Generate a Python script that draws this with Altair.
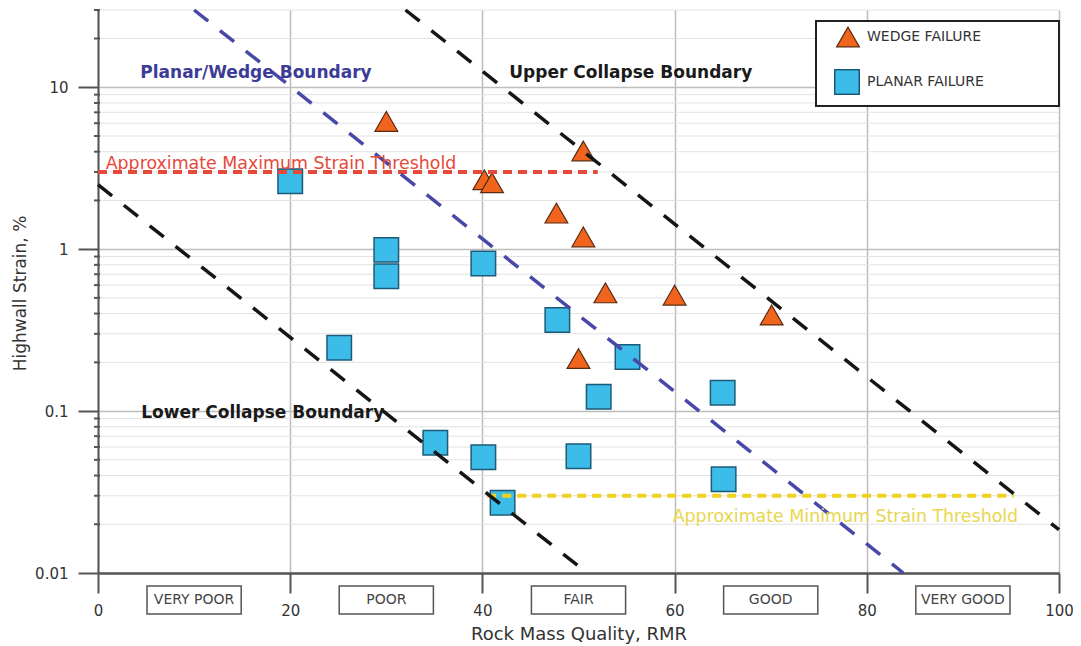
import altair as alt
import pandas as pd

# ---------------- data ----------------
wedge_rmr = [30.0, 40.2, 41.0, 50.5, 47.7, 50.5, 52.8, 60.0, 70.1, 50.0]
wedge_strain = [6.15, 2.68, 2.57, 4.04, 1.67, 1.19, 0.537, 0.52, 0.392, 0.211]

planar_rmr = [20.0, 30.0, 30.0, 40.1, 47.8, 25.1, 55.1, 52.1, 65.0, 35.1, 40.1, 50.0, 65.1, 42.1]
planar_strain = [2.63, 0.99, 0.68, 0.817, 0.365, 0.246, 0.216, 0.1225, 0.130,
                 0.0637, 0.0518, 0.0527, 0.0379, 0.0272]

boundary_names = ["Lower Collapse Boundary", "Planar/Wedge Boundary", "Upper Collapse Boundary"]
boundary_rmr_start = [0.0, 10.0, 32.0]
boundary_rmr_end = [50.9, 83.8, 100.0]
boundary_strain_start = [2.5, 30.0, 30.0]
boundary_strain_end = [0.01, 0.01, 0.0185]

threshold_names = ["Approximate Maximum Strain Threshold", "Approximate Minimum Strain Threshold"]
threshold_rmr_start = [0.0, 40.5]
threshold_rmr_end = [52.0, 95.3]
threshold_strain = [3.0, 0.03]

boundary_label_rmr = [4.5, 4.4, 42.8]
boundary_label_strain = [0.0968, 12.2, 12.2]
threshold_label_rmr = [0.8, 59.8]
threshold_label_strain = [3.12, 0.0206]

classes = ["VERY POOR", "POOR", "FAIR", "GOOD", "VERY GOOD"]
class_center = [10, 30, 50, 70, 90]
class_lo = [5.1, 25.1, 45.1, 65.1, 85.1]
class_hi = [14.9, 34.9, 54.9, 74.9, 94.9]

legend_labels = ["WEDGE FAILURE", "PLANAR FAILURE"]

x_ticks = [0, 20, 40, 60, 80, 100]
y_major = [0.01, 0.1, 1, 10]
y_minor = [0.02, 0.03, 0.04, 0.05, 0.06, 0.07, 0.08, 0.09,
           0.2, 0.3, 0.4, 0.5, 0.6, 0.7, 0.8, 0.9,
           2, 3, 4, 5, 6, 7, 8, 9, 20, 30]

# ---------------- styles ----------------
FONT = "DejaVu Sans"
TRI_FILL = "#f0641e"
TRI_STROKE = "#5a2a10"
SQ_FILL = "#3cbce8"
SQ_STROKE = "#1d5a78"
BLUE = "#4848a8"
BLUE_TXT = "#3c3c98"
BLACK = "#151515"
RED = "#e5493a"
YELLOW = "#f0d21e"
YELLOW_TXT = "#e8d64c"
AXIS = "#555555"
W, H = 961, 563

boundary_line_colors = [BLACK, BLUE, BLACK]
boundary_text_colors = ["#1a1a1a", BLUE_TXT, "#1a1a1a"]
threshold_line_colors = [RED, YELLOW]
threshold_text_colors = [RED, YELLOW_TXT]

x_scale = alt.Scale(domain=[0, 100], nice=False, zero=False)
y_scale = alt.Scale(type="log", domain=[0.01, 30], nice=False)

x_axis = alt.Axis(values=x_ticks, format="d", title="Rock Mass Quality, RMR",
                  tickSize=20, tickWidth=2, tickColor=AXIS,
                  domainColor=AXIS, domainWidth=2.5,
                  labelFont=FONT, labelFontSize=15, labelColor="#333333",
                  labelPadding=10, labelFlush=False, labelOverlap=False,
                  grid=True, gridColor="#bdbdbd", gridWidth=1.5,
                  titleFont=FONT, titleFontSize=18, titleFontWeight="normal",
                  titleColor="#333333", titleBaseline="alphabetic", titleY=66)

y_axis = alt.Axis(values=y_major, format="~g", title="Highwall Strain, %",
                  tickSize=20, tickWidth=2, tickColor=AXIS,
                  domainColor=AXIS, domainWidth=2,
                  labelFont=FONT, labelFontSize=15, labelColor="#333333",
                  labelPadding=10, labelFlush=False, labelOverlap=False,
                  grid=True, gridColor="#bdbdbd", gridWidth=1.5,
                  titleFont=FONT, titleFontSize=17, titleFontWeight="normal",
                  titleColor="#333333", titleAngle=270, titleAlign="center",
                  titleBaseline="middle", titleX=-78, titleY=283)


def X(field):
    return alt.X(field, type="quantitative", scale=x_scale, axis=x_axis)


def Y(field):
    return alt.Y(field, type="quantitative", scale=y_scale, axis=y_axis)


layers = []

# minor gridlines and minor ticks
minor_df = pd.DataFrame({"strain": y_minor})
layers.append(alt.Chart(minor_df).mark_rule(color="#e2e2e2", strokeWidth=1).encode(y=Y("strain")))
layers.append(alt.Chart(minor_df).mark_rule(color=AXIS, strokeWidth=2).encode(
    y=Y("strain"), x=alt.value(-4), x2=alt.value(2)))

# data points
wedge_df = pd.DataFrame({"rmr": wedge_rmr, "strain": wedge_strain})
planar_df = pd.DataFrame({"rmr": planar_rmr, "strain": planar_strain})
layers.append(alt.Chart(wedge_df).mark_point(
    shape="triangle-up", filled=True, fill=TRI_FILL, stroke=TRI_STROKE, strokeWidth=1.2,
    size=520, opacity=1).encode(x=X("rmr"), y=Y("strain")))
layers.append(alt.Chart(planar_df).mark_point(
    shape="square", filled=True, fill=SQ_FILL, stroke=SQ_STROKE, strokeWidth=1.5,
    size=600, opacity=1).encode(x=X("rmr"), y=Y("strain")))

# threshold lines
for i, n in enumerate(threshold_names):
    d = pd.DataFrame({"rmr": [threshold_rmr_start[i]], "rmr2": [threshold_rmr_end[i]],
                      "strain": [threshold_strain[i]]})
    layers.append(alt.Chart(d).mark_rule(strokeDash=[9, 6], strokeWidth=4,
                                         color=threshold_line_colors[i]).encode(
        x=X("rmr"), x2="rmr2:Q", y=Y("strain")))

# boundary lines
for i, n in enumerate(boundary_names):
    d = pd.DataFrame({"rmr": [boundary_rmr_start[i], boundary_rmr_end[i]],
                      "strain": [boundary_strain_start[i], boundary_strain_end[i]]})
    layers.append(alt.Chart(d).mark_line(strokeDash=[18, 15], strokeWidth=3.5,
                                         color=boundary_line_colors[i]).encode(
        x=X("rmr"), y=Y("strain")))

# line labels
for i, n in enumerate(boundary_names):
    d = pd.DataFrame({"name": [n], "rmr": [boundary_label_rmr[i]],
                      "strain": [boundary_label_strain[i]]})
    layers.append(alt.Chart(d).mark_text(align="left", baseline="middle", font=FONT,
                                         fontWeight="bold", fontSize=17,
                                         color=boundary_text_colors[i]).encode(
        x=X("rmr"), y=Y("strain"), text="name:N"))
for i, n in enumerate(threshold_names):
    d = pd.DataFrame({"name": [n], "rmr": [threshold_label_rmr[i]],
                      "strain": [threshold_label_strain[i]]})
    layers.append(alt.Chart(d).mark_text(align="left", baseline="alphabetic", font=FONT,
                                         fontSize=17.4, color=threshold_text_colors[i]).encode(
        x=X("rmr"), y=Y("strain"), text="name:N"))

# rock-mass class boxes under the axis
cls_df = pd.DataFrame({"name": classes, "rmr": class_center, "lo": class_lo, "hi": class_hi})
layers.append(alt.Chart(cls_df).mark_rect(fill="white", stroke="#555555", strokeWidth=1.5).encode(
    x=X("lo"), x2="hi:Q", y=alt.value(576), y2=alt.value(604)))
layers.append(alt.Chart(cls_df).mark_text(font=FONT, fontSize=14, color="#444444",
                                          baseline="middle").encode(
    x=X("rmr"), y=alt.value(590), text="name:N"))

# custom legend
leg_df1 = pd.DataFrame({"label": [legend_labels[0]]})
leg_df2 = pd.DataFrame({"label": [legend_labels[1]]})
LX = W - 243
layers.append(alt.Chart(leg_df1).mark_rect(fill="white", stroke="#222222", strokeWidth=2).encode(
    x=alt.value(LX), x2=alt.value(W), y=alt.value(11), y2=alt.value(96)))
layers.append(alt.Chart(leg_df1).mark_point(
    shape="triangle-up", filled=True, fill=TRI_FILL, stroke=TRI_STROKE, strokeWidth=1.2,
    size=520, opacity=1).encode(x=alt.value(LX + 32), y=alt.value(27)))
layers.append(alt.Chart(leg_df2).mark_point(
    shape="square", filled=True, fill=SQ_FILL, stroke=SQ_STROKE, strokeWidth=1.5,
    size=600, opacity=1).encode(x=alt.value(LX + 31), y=alt.value(72)))
layers.append(alt.Chart(leg_df1).mark_text(align="left", baseline="middle", font=FONT,
                                           fontSize=14, color="#333333").encode(
    x=alt.value(LX + 51), y=alt.value(27), text="label:N"))
layers.append(alt.Chart(leg_df2).mark_text(align="left", baseline="middle", font=FONT,
                                           fontSize=14, color="#333333").encode(
    x=alt.value(LX + 51), y=alt.value(72), text="label:N"))

chart = alt.layer(*layers).properties(
    width=W, height=H,
    autosize=alt.AutoSizeParams(type="none"),
    padding={"left": 90, "top": 2, "right": 14, "bottom": 72},
).configure_view(stroke=None)

chart.save("out.html", embed_options={"renderer": "svg", "actions": False})
